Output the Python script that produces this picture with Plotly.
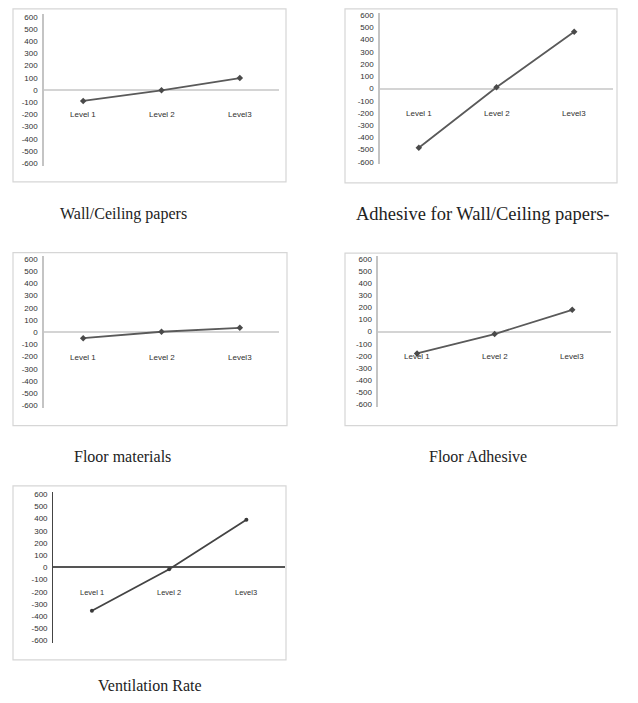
import plotly.graph_objects as go

W, H = 638, 703

levels = ["Level 1", "Level 2", "Level3"]
wall_ceiling_papers = [-90, -3, 98]
adhesive_wall_ceiling = [-485, 10, 465]
floor_materials = [-50, 3, 35]
floor_adhesive = [-180, -20, 180]
ventilation_rate = [-355, -15, 390]

y_ticks = list(range(-600, 601, 100))
y_tick_text = [str(v) for v in y_ticks]

captions = [
    "Wall/Ceiling papers",
    "Adhesive for Wall/Ceiling papers-",
    "Floor materials",
    "Floor Adhesive",
    "Ventilation Rate",
]
caption_sizes = [16, 18.5, 16, 16, 16]

series = [wall_ceiling_papers, adhesive_wall_ceiling, floor_materials,
          floor_adhesive, ventilation_rate]

# panel layout in pixels: frame box, y-axis x, plot right edge,
# pixel rows of the +600 and -600 ticks, caption centre
panels = [
    dict(box=(13, 7, 286, 181), xa=44, xb=279, t=15, b=162, cap=(124, 213)),
    dict(box=(345, 7, 617, 182), xa=380, xb=613, t=13.3, b=160.7, cap=(483, 213)),
    dict(box=(13, 252, 287, 426), xa=44, xb=279, t=258.3, b=405.7, cap=(122, 457)),
    dict(box=(345, 252.5, 617, 426), xa=378.3, xb=611, t=258.3, b=404.7, cap=(478, 457)),
    dict(box=(13, 486.7, 286, 661.7), xa=53.3, xb=285, t=495, b=642.3, cap=(150, 687)),
]


def px_x(v):
    return v / W


def px_y(v):
    return 1 - v / H


fig = go.Figure()
annotations = []
shapes = []
YR = 620

for i, (p, vals, cap, csz) in enumerate(zip(panels, series, captions, caption_sizes), start=1):
    dark = (i == 5)
    per = (p["b"] - p["t"]) / 1200.0
    top = p["t"] - (YR - 600) * per
    bot = p["b"] + (YR - 600) * per
    xs = "x" if i == 1 else f"x{i}"
    ys = "y" if i == 1 else f"y{i}"
    xk = "xaxis" if i == 1 else f"xaxis{i}"
    yk = "yaxis" if i == 1 else f"yaxis{i}"

    fig.add_trace(go.Scatter(
        x=levels, y=vals, xaxis=xs, yaxis=ys, mode="lines+markers",
        line=dict(color="#444444" if dark else "#5a5a5a", width=1.8),
        marker=dict(symbol="circle" if dark else "diamond",
                    size=4 if dark else 5,
                    color="#3a3a3a" if dark else "#4a4a4a"),
        showlegend=False, hoverinfo="skip",
    ))

    fig.update_layout({
        xk: dict(domain=[px_x(p["xa"]), px_x(p["xb"])], anchor=ys,
                 type="category", range=[-0.5, 2.5], showline=False,
                 showgrid=False, zeroline=False, showticklabels=False,
                 ticks=""),
        yk: dict(domain=[px_y(bot), px_y(top)], anchor=xs,
                 range=[-YR, YR], tickvals=y_ticks, ticktext=y_tick_text,
                 showgrid=False, zeroline=True,
                 zerolinecolor="#555555" if dark else "#d4d4d4",
                 zerolinewidth=1.5 if dark else 2,
                 showline=True,
                 linecolor="#444444" if dark else "#c4c4c4",
                 linewidth=1.3 if dark else 1.5,
                 ticks="", ticklabelstandoff=3,
                 tickfont=dict(family="Liberation Sans, Arial", size=8,
                               color="#303030")),
    })

    # category labels sit below the zero line
    for lv in levels:
        annotations.append(dict(
            x=lv, y=-205, xref=xs, yref=ys, text=lv, showarrow=False,
            font=dict(family="Liberation Sans, Arial",
                      size=7.5 if dark else 8, color="#303030"),
            xanchor="center", yanchor="middle",
        ))

    x0, y0, x1, y1 = p["box"]
    shapes.append(dict(type="rect", xref="paper", yref="paper",
                       x0=px_x(x0), x1=px_x(x1), y0=px_y(y1), y1=px_y(y0),
                       line=dict(color="#d6d6d6", width=1.2),
                       fillcolor="rgba(0,0,0,0)", layer="below"))

    cx, cy = p["cap"]
    annotations.append(dict(
        x=px_x(cx), y=px_y(cy), xref="paper", yref="paper", text=cap,
        showarrow=False, xanchor="center", yanchor="middle",
        font=dict(family="Liberation Serif, Times New Roman", size=csz,
                  color="#222222"),
    ))

fig.update_layout(
    width=W, height=H, margin=dict(l=0, r=0, t=0, b=0),
    paper_bgcolor="white", plot_bgcolor="white",
    annotations=annotations, shapes=shapes,
)

fig.write_html("out.html")
